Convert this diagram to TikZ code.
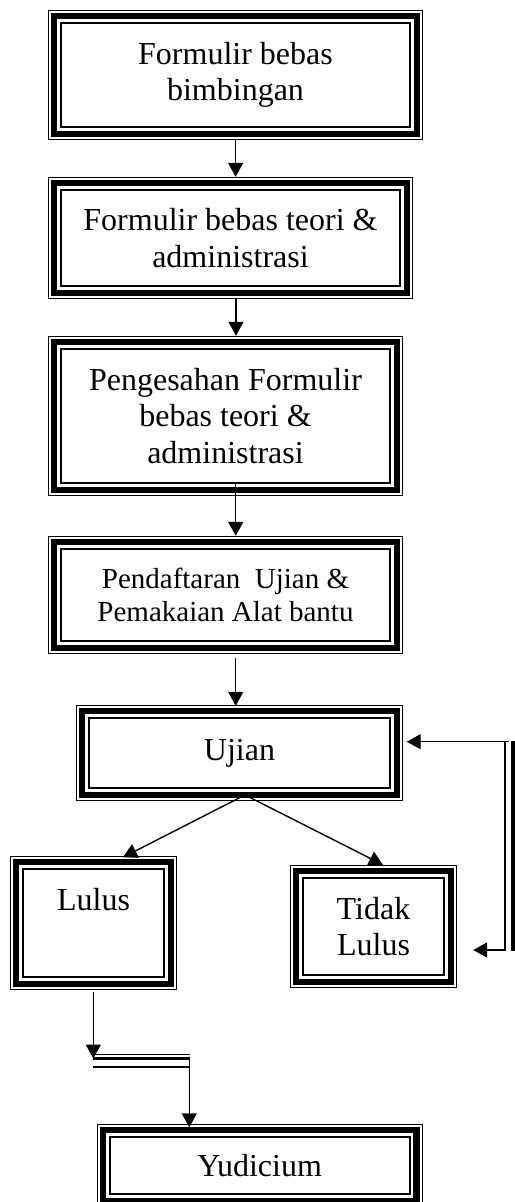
\documentclass[tikz,border=0pt]{standalone}
\usepackage{fontspec}
\setmainfont{Liberation Serif}
\usetikzlibrary{arrows.meta,calc}

% three-line frame (thin, thick, thin) drawn inside a node's outline
\newcommand\triframe[1]{%
  \draw[line width=1.4pt] ($(#1.north west)+(0.7,0.7)$) rectangle ($(#1.south east)+(-0.7,-0.7)$);
  \draw[line width=6.2pt] ($(#1.north west)+(6.5,6.5)$) rectangle ($(#1.south east)+(-6.5,-6.5)$);
  \draw[line width=2pt] ($(#1.north west)+(13.3,13.3)$) rectangle ($(#1.south east)+(-13.3,-13.3)$);}

\begin{document}
\begin{tikzpicture}[x=1pt,y=-1pt,
  box/.style={rectangle,inner sep=0pt,align=center,
    font=\fontsize{32}{36.5}\selectfont},
  smallbox/.style={box,font=\fontsize{29}{33}\selectfont},
  arr/.style={line width=1.4pt,-{Triangle[width=15pt,length=14pt]}}]
\useasboundingbox (0,0) rectangle (514,1202);

% boxes
\node[box,minimum width=375pt,minimum height=130pt] (b1) at (235.5,75) {Formulir bebas\\bimbingan};
\node[box,minimum width=365pt,minimum height=122pt] (b2) at (230.5,238) {Formulir bebas teori \&\\administrasi};
\node[box,minimum width=355pt,minimum height=160pt] (b3) at (225.5,416) {Pengesahan Formulir\\bebas teori \&\\administrasi};
\node[smallbox,minimum width=355pt,minimum height=118pt] (b4) at (225.5,595) {Pendaftaran\ \ Ujian \&\\Pemakaian Alat bantu};
\node[box,minimum width=327pt,minimum height=96pt] (ujian) at (239.5,753) {Ujian};
\node[box,minimum width=167pt,minimum height=134pt] (lulus) at (93.5,923) {Lulus\\\strut};
\node[box,minimum width=167pt,minimum height=123pt] (tidak) at (373.5,926.5) {Tidak\\Lulus};
\node[box,minimum width=326pt,minimum height=83pt] (yud) at (259.7,1165.5) {Yudicium};

\foreach \n in {b1,b2,b3,b4,ujian,lulus,tidak,yud}{\triframe{\n}}

% main column
\draw[arr] (b1.south -| 235.6,0) -- (b2.north -| 235.6,0);
\draw[arr] (b2.south -| 236,0) -- (b3.north -| 236,0);
\draw[arr] ($(b3.south -| 235.7,0)+(0,-14)$) -- (b4.north -| 235.7,0);
\draw[arr] ($(b4.south -| 235.7,0)+(0,4)$) -- ($(ujian.north -| 235.7,0)+(0,1)$);

% branches out of the exam
\coordinate (uL) at (241,797);
\coordinate (uR) at (249,797);
\draw[arr] (uL) -- ($(lulus.north -| 123,0)+(0,1.5)$);
\draw[arr] (uR) -- (tidak.north -| 383,0);

% return loop from "Tidak Lulus" back to the exam
\coordinate (loopT) at (509,741.7);
\coordinate (loopB) at (506,950);
\draw[line width=1.5pt] (505.2,741) -- (505.2,950.7);
\draw[line width=4.2pt] (512.6,741) -- (512.6,951.3);
\draw[arr] (loopT) -- ($(ujian.east |- loopT)+(3.5,0)$);
\draw[arr] (loopB) -- ($(tidak.east |- loopB)+(16,0)$);

% from "Lulus" down to "Yudicium"
\coordinate (jL) at (93.3,1058.5);
\coordinate (jR) at (189.3,1058.5);
\draw[arr] ($(lulus.south -| 93.3,0)+(0,2)$) -- (jL);
\draw[line width=1.3pt] (93.3,1054.3) -- (189.9,1054.3);
\draw[line width=3.4pt] (93.3,1058.7) -- (189.9,1058.7);
\draw[line width=1.7pt] (93.3,1067) -- (189.9,1067);
\draw[arr] (jR) -- ($(yud.north -| 189.3,0)+(0,3.5)$);
\end{tikzpicture}
\end{document}
